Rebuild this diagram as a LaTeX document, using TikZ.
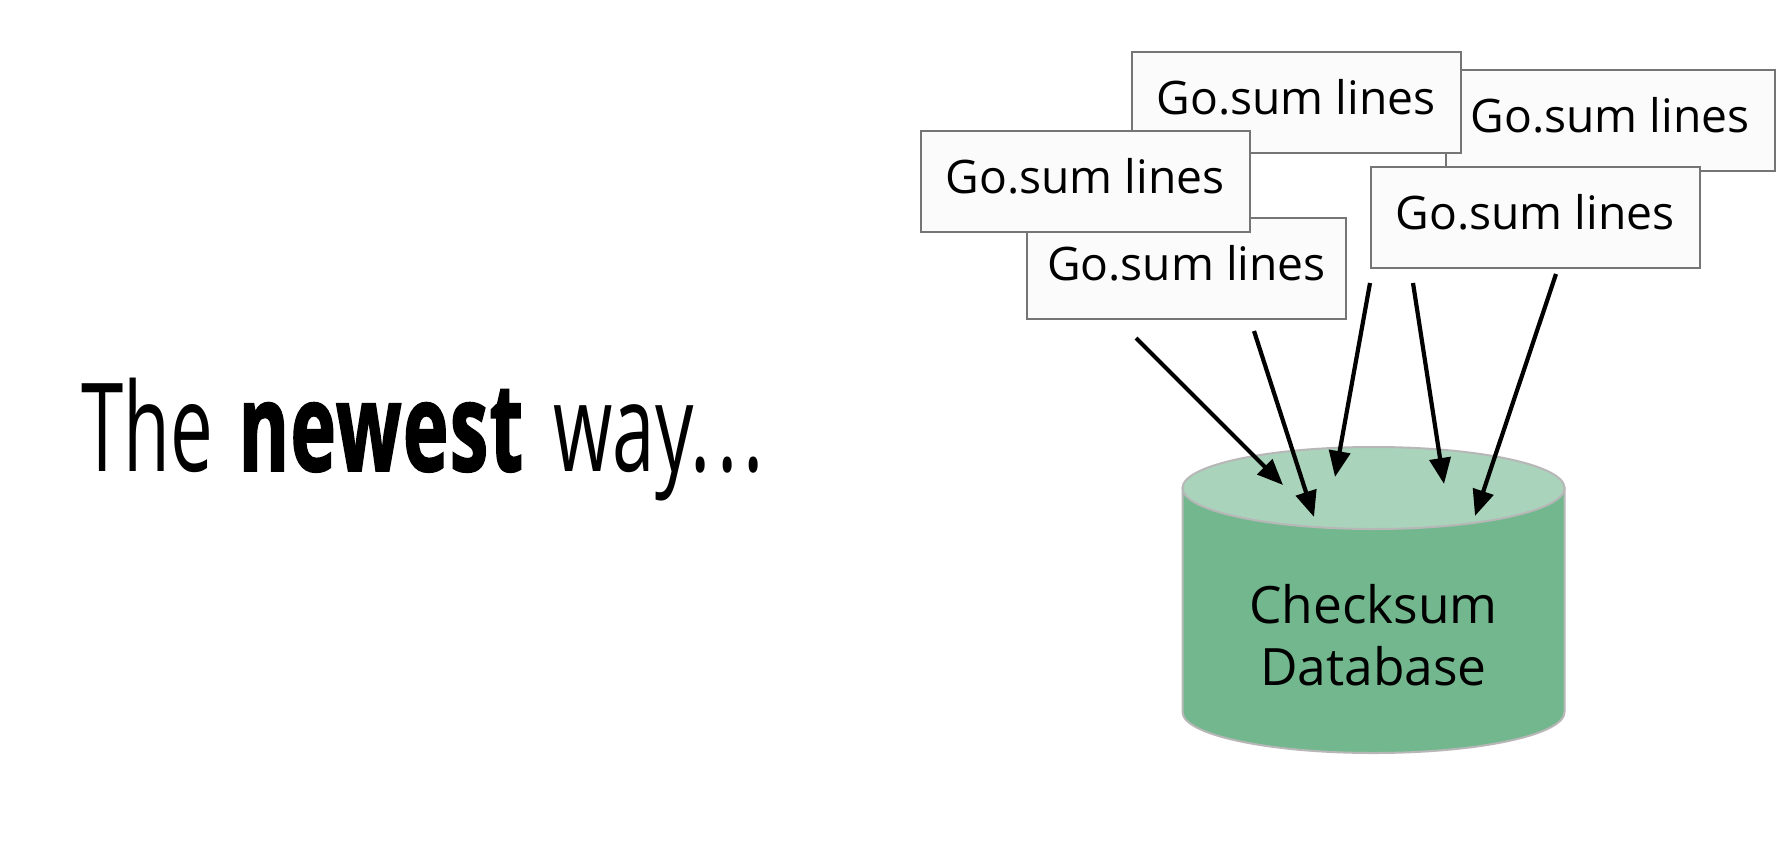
\documentclass[tikz,border=0pt]{standalone}
\usepackage{fontspec}
\usetikzlibrary{arrows.meta}
\setmainfont{Open Sans}
\newfontfamily\titlefont[FakeStretch=0.62,BoldFont={Open Sans Bold},BoldFeatures={FakeBold=1.5,LetterSpace=1.5}]{Open Sans}
\definecolor{boxfill}{HTML}{FBFBFB}
\definecolor{boxline}{HTML}{757575}
\definecolor{dbbody}{HTML}{73B78F}
\definecolor{dbtop}{HTML}{A9D4BB}
\definecolor{dbline}{HTML}{B7B7B7}
\tikzset{
  sumbox/.style={draw=boxline,line width=2pt,fill=boxfill,minimum width=329pt,minimum height=101pt,inner sep=0pt},
  sumtext/.style={inner sep=0pt,font=\fontsize{46.2}{56}\selectfont},
  dbedge/.style={draw=dbline,line width=2pt},
  feed/.style={line width=4.2pt,-{Triangle[length=26pt,width=21pt]}}
}
\begin{document}
\begin{tikzpicture}[x=1pt,y=-1pt]
\useasboundingbox (0,0) rectangle (1790,846);
\fill[white] (0,0) rectangle (1790,846);
\node[anchor=base west,inner sep=0pt,font=\fontsize{123}{130}\selectfont\titlefont] (title) at (81,471) {The\hspace{6pt} \textbf{newest}\hspace{9pt} way.\hspace{6pt}.\hspace{6pt}.};
% database
\path[fill=dbbody,dbedge] (1182.5,488) -- (1182.5,712) arc[start angle=180,end angle=360,x radius=191pt,y radius=41pt] -- (1564.5,488) -- cycle;
\path[fill=dbtop,dbedge] (1373.5,488) ellipse[x radius=191pt,y radius=41pt];
\node[align=center,inner sep=0pt,font=\fontsize{51.5}{62}\selectfont] (dblabel) at (1373.5,635.5) {Checksum\\Database};
% boxes
\node[sumbox] (boxb) at (1610,120) {};
\node[sumtext] (textb) at (1610,115.5) {Go.sum lines};
\node[sumbox] (boxa) at (1296,102) {};
\node[sumtext] (texta) at (1296,97.5) {Go.sum lines};
\node[sumbox,minimum width=319pt] (boxd) at (1186.5,268) {};
\node[sumtext] (textd) at (1186.5,263.5) {Go.sum lines};
\node[sumbox] (boxc) at (1085,181) {};
\node[sumtext] (textc) at (1085,176.5) {Go.sum lines};
\node[sumbox] (boxe) at (1535,217) {};
\node[sumtext] (texte) at (1535,212.5) {Go.sum lines};
% arrow ends
\coordinate (s1) at (1136,338); \coordinate (t1) at (1283,485);
\coordinate (s2) at (1254,331); \coordinate (t2) at (1314,517);
\coordinate (s3) at (1370,283); \coordinate (t3) at (1335,477);
\coordinate (s4) at (1413,283); \coordinate (t4) at (1444,484);
\coordinate (s5) at (1556,274); \coordinate (t5) at (1475,516);
\draw[feed] (s1) -- (t1);
\draw[feed] (s2) -- (t2);
\draw[feed] (s3) -- (t3);
\draw[feed] (s4) -- (t4);
\draw[feed] (s5) -- (t5);
\end{tikzpicture}
\end{document}
